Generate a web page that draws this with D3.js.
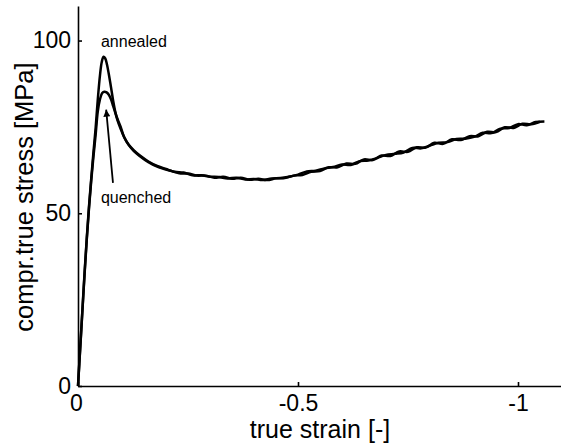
<!DOCTYPE html>
<html>
<head>
<meta charset="utf-8">
<script src="https://cdn.jsdelivr.net/npm/d3@7/dist/d3.min.js"></script>
<style>
  html, body { margin: 0; padding: 0; background: #fff; }
  svg { display: block; }
  text { font-family: "Liberation Sans", Arial, Helvetica, sans-serif; fill: #000; }
</style>
</head>
<body>
<svg id="chart" width="561" height="447"></svg>
<script>
// Compression test: true stress vs. true strain for two thermal histories
const annealedStrain = [0, -0.005, -0.01, -0.015, -0.02, -0.025, -0.03, -0.035, -0.04, -0.045,
  -0.05, -0.054, -0.058, -0.062, -0.066, -0.07, -0.075, -0.08, -0.085, -0.09,
  -0.097, -0.105, -0.115, -0.127, -0.14, -0.16, -0.18,
  -0.20, -0.22, -0.24, -0.26, -0.28, -0.30, -0.32, -0.34, -0.36, -0.38,
  -0.40, -0.42, -0.44, -0.46, -0.48, -0.50, -0.52, -0.54, -0.56, -0.58,
  -0.60, -0.62, -0.64, -0.66, -0.68, -0.70, -0.72, -0.74, -0.76, -0.78,
  -0.80, -0.82, -0.84, -0.86, -0.88, -0.90, -0.92, -0.94, -0.96, -0.98,
  -1.00, -1.02, -1.04, -1.06];
const annealedStress = [0, 11, 22, 33, 43, 52, 60, 67.5, 74.5, 83,
  90, 93.8, 95.3, 94.8, 93, 90.3, 86.5, 82.5, 79.2, 76.8,
  74.4, 72.0, 69.9, 68.2, 66.8, 65.0, 63.7,
  62.8, 62.0, 61.8, 61.0, 61.0, 60.6, 60.5, 60.1, 60.3, 59.8,
  59.9, 59.6, 60.1, 60.2, 60.6, 61.2, 62.1, 62.3, 63.0, 63.4,
  64.1, 64.0, 65.1, 65.3, 66.0, 66.9, 67.2, 67.6, 68.9, 68.8,
  69.6, 70.4, 70.6, 71.5, 71.6, 72.1, 73.3, 73.2, 74.5, 74.7,
  75.8, 75.5, 76.4, 76.6];

const quenchedStrain = [0, -0.005, -0.01, -0.015, -0.02, -0.025, -0.03, -0.035, -0.04, -0.045,
  -0.05, -0.055, -0.06, -0.065, -0.07, -0.075, -0.08, -0.085, -0.09,
  -0.097, -0.105, -0.115, -0.127, -0.14, -0.16, -0.18,
  -0.21, -0.23, -0.25, -0.27, -0.29, -0.31, -0.33, -0.35, -0.37, -0.39,
  -0.41, -0.43, -0.45, -0.47, -0.49, -0.51, -0.53, -0.55, -0.57, -0.59,
  -0.61, -0.63, -0.65, -0.67, -0.69, -0.71, -0.73, -0.75, -0.77, -0.79,
  -0.81, -0.83, -0.85, -0.87, -0.89, -0.91, -0.93, -0.95, -0.97, -0.99,
  -1.01, -1.03, -1.05];
const quenchedStress = [0, 10.8, 21.7, 32.5, 42.5, 51.5, 59.3, 66.3, 72.6, 79.5,
  83, 84.8, 85.2, 85, 84.3, 83, 81, 79, 77.2,
  75, 72.0, 69.8, 68.0, 66.6, 64.8, 63.5,
  62.3, 61.6, 61.5, 60.9, 60.9, 60.3, 60.6, 60.0, 60.3, 59.7,
  60.0, 59.6, 60.1, 60.2, 60.9, 61.1, 62.0, 62.2, 63.3, 63.3,
  64.4, 64.3, 65.6, 65.4, 66.7, 66.6, 67.9, 67.8, 69.1, 69.0,
  70.4, 70.1, 71.4, 71.2, 72.3, 72.3, 73.6, 73.5, 74.9, 74.7,
  75.9, 75.8, 76.5];

const xTicks = [0, -0.5, -1];
const xTickLabels = ["0", "-0.5", "-1"];
const yTicks = [0, 50, 100];
const yTickLabels = ["0", "50", "100"];

const svg = d3.select("#chart");

const x = d3.scaleLinear().domain([0, -1.1]).range([78, 562]);
const y = d3.scaleLinear().domain([0, 110]).range([386, 6]);

// axes with inward ticks
const xAxis = d3.axisBottom(x)
  .tickValues(xTicks)
  .tickFormat((d, i) => xTickLabels[i])
  .tickSizeInner(-4).tickSizeOuter(0).tickPadding(9);
const yAxis = d3.axisLeft(y)
  .tickValues(yTicks)
  .tickFormat((d, i) => yTickLabels[i])
  .tickSizeInner(-4).tickSizeOuter(0).tickPadding(7);

const gx = svg.append("g").attr("transform", `translate(0,${y(0)})`).call(xAxis);
const gy = svg.append("g").attr("transform", `translate(${x(0)},0)`).call(yAxis);

[gx, gy].forEach(g => {
  g.select(".domain").attr("stroke", "#000").attr("stroke-width", 1.6);
  g.selectAll(".tick line").attr("stroke", "#000").attr("stroke-width", 1.6);
  g.selectAll(".tick text").attr("font-size", 23).attr("fill", "#000")
    .attr("font-family", '"Liberation Sans", Arial, sans-serif');
});
gx.selectAll(".tick text").attr("dy", "0.71em");
// the zero on the y axis sits at the corner, the x zero just below it
gx.selectAll(".tick text").filter(d => d === 0).attr("dx", -2);

// curves
const line = d3.line().x(d => x(d[0])).y(d => y(d[1])).curve(d3.curveCatmullRom.alpha(0.5));
const annealed = annealedStrain.map((s, i) => [s, annealedStress[i]]);
const quenched = quenchedStrain.map((s, i) => [s, quenchedStress[i]]);

[annealed, quenched].forEach(data => {
  svg.append("path")
    .datum(data)
    .attr("d", line)
    .attr("fill", "none")
    .attr("stroke", "#000")
    .attr("stroke-width", 2.5)
    .attr("stroke-linejoin", "round");
});

// annotations
svg.append("text")
  .attr("x", x(-0.127)).attr("y", y(98.1))
  .attr("text-anchor", "middle").attr("font-size", 16)
  .text("annealed");
svg.append("text")
  .attr("x", x(-0.132)).attr("y", y(53))
  .attr("text-anchor", "middle").attr("font-size", 16)
  .text("quenched");

svg.append("defs").append("marker")
  .attr("id", "arrowHead")
  .attr("viewBox", "0 0 10 10")
  .attr("refX", 10).attr("refY", 5)
  .attr("markerWidth", 10).attr("markerHeight", 7)
  .attr("markerUnits", "userSpaceOnUse")
  .attr("orient", "auto")
  .append("path").attr("d", "M0,0 L10,5 L0,10 Z").attr("fill", "#000");

svg.append("line")
  .attr("x1", x(-0.0795)).attr("y1", y(58.8))
  .attr("x2", x(-0.064)).attr("y2", y(80))
  .attr("stroke", "#000").attr("stroke-width", 1.8)
  .attr("marker-end", "url(#arrowHead)");

// axis titles
svg.append("text")
  .attr("x", 320).attr("y", 438)
  .attr("text-anchor", "middle").attr("font-size", 25)
  .text("true strain [-]");
svg.append("text")
  .attr("transform", "translate(33,197) rotate(-90)")
  .attr("text-anchor", "middle").attr("font-size", 25.5)
  .text("compr.true stress [MPa]");
</script>
</body>
</html>
